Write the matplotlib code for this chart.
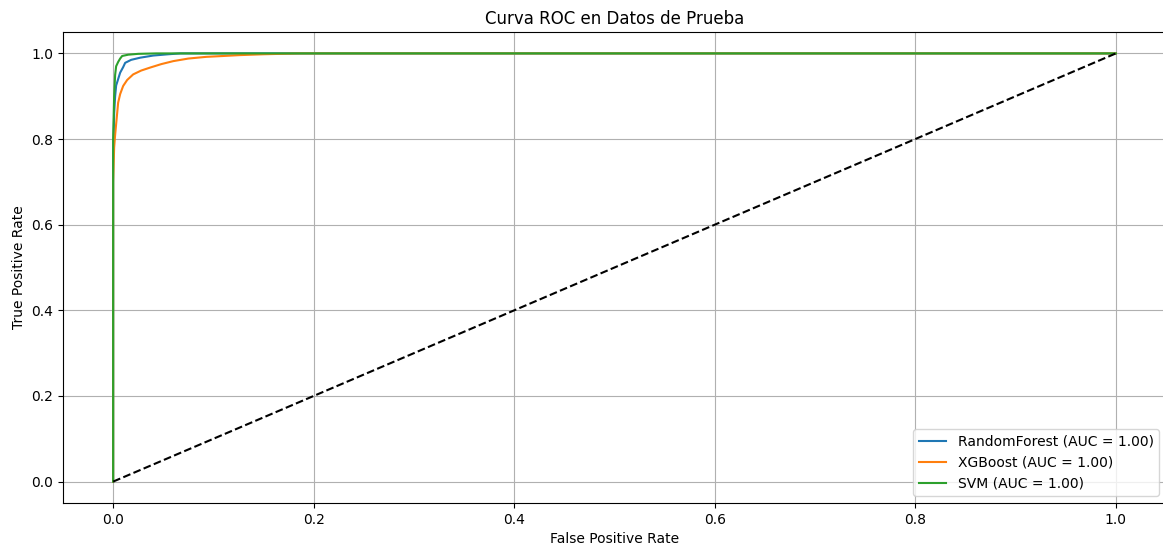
import matplotlib
matplotlib.use("Agg")
import matplotlib.pyplot as plt

rf_fpr = [0.0, 0.0, 0.001, 0.002, 0.003, 0.005, 0.007, 0.010, 0.012, 0.018, 0.027, 0.040, 0.055, 0.067, 0.2, 1.0]
rf_tpr = [0.0, 0.75, 0.86, 0.90, 0.925, 0.94, 0.955, 0.968, 0.978, 0.985, 0.990, 0.995, 0.998, 1.0, 1.0, 1.0]

xgb_fpr = [0.0, 0.0, 0.001, 0.002, 0.004, 0.005, 0.007, 0.010, 0.014, 0.020, 0.028, 0.037, 0.048, 0.060, 0.075, 0.093, 0.110, 0.126, 0.150, 0.185, 1.0]
xgb_tpr = [0.0, 0.70, 0.78, 0.81, 0.86, 0.885, 0.905, 0.924, 0.938, 0.951, 0.960, 0.967, 0.975, 0.982, 0.988, 0.992, 0.994, 0.996, 0.998, 1.0, 1.0]

svm_fpr = [0.0, 0.0, 0.001, 0.002, 0.003, 0.005, 0.007, 0.009, 0.015, 0.025, 0.043, 1.0]
svm_tpr = [0.0, 0.80, 0.90, 0.95, 0.970, 0.980, 0.988, 0.994, 0.997, 0.999, 1.0, 1.0]

labels = ["RandomForest (AUC = 1.00)", "XGBoost (AUC = 1.00)", "SVM (AUC = 1.00)"]

fig = plt.figure(figsize=(11.63, 5.46), dpi=100)
ax = fig.add_axes([63/1163, 43/546, 1103/1163, 471/546])
ax.plot(rf_fpr, rf_tpr, label=labels[0], color="#1f77b4")
ax.plot(xgb_fpr, xgb_tpr, label=labels[1], color="#ff7f0e")
ax.plot(svm_fpr, svm_tpr, label=labels[2], color="#2ca02c")
ax.plot([0, 1], [0, 1], "k--")
ax.set_xlim(-0.05, 1.05)
ax.set_ylim(-0.05, 1.05)
ax.spines["right"].set_visible(False)
ax.set_xlabel("False Positive Rate")
ax.set_ylabel("True Positive Rate")
ax.set_title("Curva ROC en Datos de Prueba")
ax.legend(loc="lower right")
ax.grid(True)
fig.savefig("out.png", dpi=100)
